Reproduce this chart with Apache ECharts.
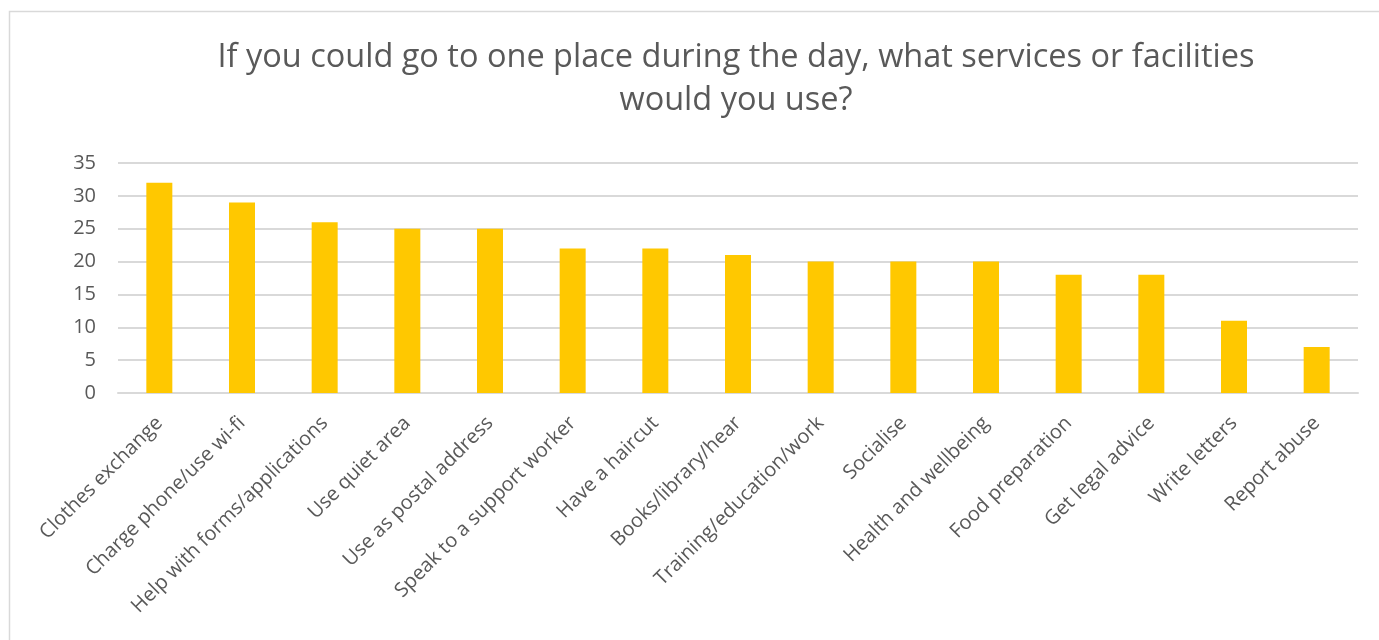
<!DOCTYPE html>
<html>
<head>
<meta charset="utf-8">
<script src="https://cdn.jsdelivr.net/npm/echarts@6/dist/echarts.min.js"></script>
<style>
  html, body { margin: 0; padding: 0; background: #fff; }
  #chart { width: 1379px; height: 640px; }
</style>
</head>
<body>
<div id="chart"></div>
<script>
// Survey responses: services people would use at a daytime hub
const categories = [
  'Clothes exchange', 'Charge phone/use wi-fi', 'Help with forms/applications',
  'Use quiet area', 'Use as postal address', 'Speak to a support worker',
  'Have a haircut', 'Books/library/hear', 'Training/education/work',
  'Socialise', 'Health and wellbeing', 'Food preparation',
  'Get legal advice', 'Write letters', 'Report abuse'
];
const responses = [32, 29, 26, 25, 25, 22, 22, 21, 20, 20, 20, 18, 18, 11, 7];
const yTicks = [0, 5, 10, 15, 20, 25, 30, 35];

const FONT = '"Open Sans", "Noto Sans", sans-serif';
const chart = echarts.init(document.getElementById('chart'));

chart.setOption({
  animation: false,
  backgroundColor: '#ffffff',
  graphic: [{
    type: 'rect',
    left: 7, top: 9,
    shape: { width: 1400, height: 700 },
    style: { fill: 'none', stroke: '#d9d9d9', lineWidth: 1.5 },
    silent: true
  }],
  title: {
    text: 'If you could go to one place during the day, what services or facilities\nwould you use?',
    left: 731,
    top: 31,
    textAlign: 'center',
    textStyle: {
      fontFamily: FONT,
      fontSize: 32.5,
      fontWeight: 'normal',
      color: '#595959',
      lineHeight: 43
    }
  },
  grid: { left: 118, right: 21, top: 163, bottom: 247, containLabel: false },
  xAxis: {
    type: 'category',
    data: categories,
    axisLine: { lineStyle: { color: '#d9d9d9', width: 2 } },
    axisTick: { show: false },
    axisLabel: {
      interval: 0,
      rotate: 45,
      margin: 27,
      fontFamily: FONT,
      fontSize: 20,
      color: '#595959'
    }
  },
  yAxis: {
    type: 'value',
    min: yTicks[0],
    max: yTicks[yTicks.length - 1],
    interval: yTicks[1] - yTicks[0],
    axisLine: { show: false },
    axisTick: { show: false },
    splitLine: { lineStyle: { color: '#d9d9d9', width: 2 } },
    axisLabel: {
      margin: 22,
      fontFamily: FONT,
      fontSize: 20,
      color: '#595959'
    }
  },
  series: [{
    type: 'bar',
    data: responses,
    barWidth: 26,
    itemStyle: { color: '#ffc800' }
  }]
});
</script>
</body>
</html>
